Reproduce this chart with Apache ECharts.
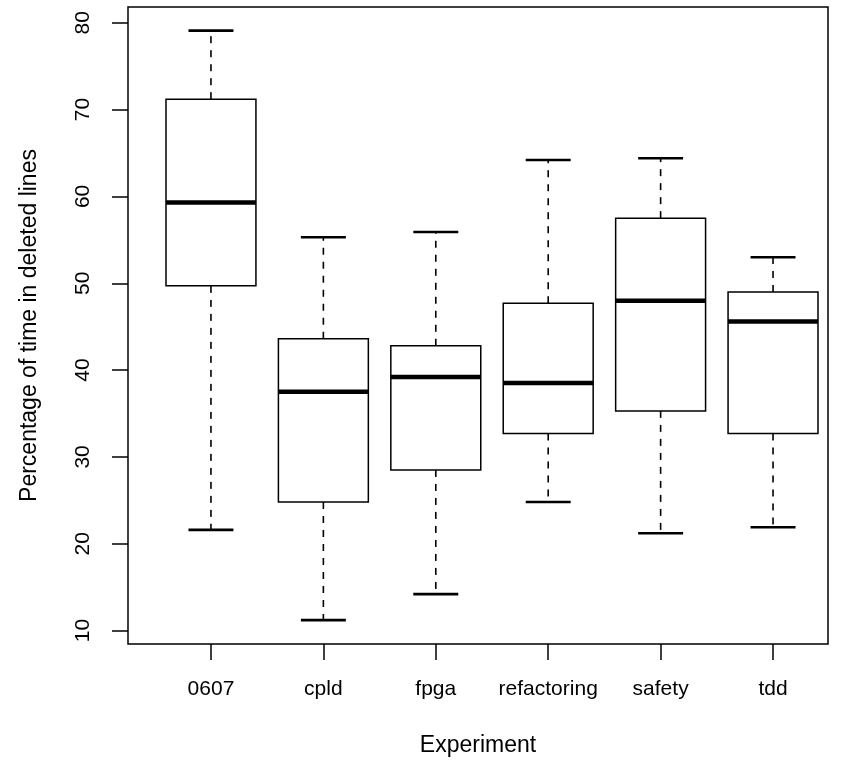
<!DOCTYPE html>
<html>
<head>
<meta charset="utf-8">
<script src="https://cdn.jsdelivr.net/npm/echarts@6/dist/echarts.min.js"></script>
<style>html,body{margin:0;padding:0;background:#fff;}#c{width:848px;height:767px;}</style>
</head>
<body>
<div id="c"></div>
<script>
const categories = ['0607', 'cpld', 'fpga', 'refactoring', 'safety', 'tdd'];
const whiskerLow  = [21.6, 11.2, 14.2, 24.8, 21.2, 21.9];
const q1          = [49.7, 24.8, 28.5, 32.7, 35.3, 32.7];
const median      = [59.3, 37.5, 39.2, 38.5, 48.0, 45.6];
const q3          = [71.2, 43.6, 42.8, 47.7, 57.5, 49.0];
const whiskerHigh = [79.1, 55.3, 55.9, 64.2, 64.4, 53.0];
const yTicks = [10, 20, 30, 40, 50, 60, 70, 80];

const data = categories.map((c, i) => [i + 1, whiskerLow[i], q1[i], median[i], q3[i], whiskerHigh[i]]);
const xTicks = categories.map((c, i) => i + 1);
const font = 'Liberation Sans, Arial, Helvetica, sans-serif';

const chart = echarts.init(document.getElementById('c'), null, {renderer: 'canvas'});
chart.setOption({
  animation: false,
  backgroundColor: '#fff',
  grid: {left: 128, right: 20, top: 7, bottom: 123, show: true, borderColor: '#000', borderWidth: 1.5, backgroundColor: 'transparent'},
  xAxis: {
    type: 'value', min: 0.262, max: 6.489,
    name: 'Experiment', nameLocation: 'middle', nameGap: 90,
    nameTextStyle: {fontFamily: font, fontSize: 23, color: '#000'},
    splitLine: {show: false},
    axisLine: {show: false},
    axisTick: {show: true, length: 16, customValues: xTicks, lineStyle: {color: '#000', width: 1.5}},
    axisLabel: {customValues: xTicks, margin: 35, fontFamily: font, fontSize: 21, color: '#000',
      formatter: v => categories[Math.round(v) - 1] || ''}
  },
  yAxis: {
    type: 'value', min: 8.45, max: 81.82,
    name: 'Percentage of time in deleted lines', nameLocation: 'middle', nameGap: 87,
    nameTextStyle: {fontFamily: font, fontSize: 23, color: '#000'},
    splitLine: {show: false},
    axisLine: {show: false},
    axisTick: {show: true, length: 16, customValues: yTicks, lineStyle: {color: '#000', width: 1.5}},
    axisLabel: {customValues: yTicks, rotate: 90, margin: 34, fontFamily: font, fontSize: 21, color: '#000'}
  },
  series: [{
    type: 'custom',
    data: data,
    encode: {x: 0, y: [1, 2, 3, 4, 5]},
    renderItem: function (params, api) {
      const x = api.value(0);
      const pLow = api.coord([x, api.value(1)]);
      const pQ1 = api.coord([x, api.value(2)]);
      const pMed = api.coord([x, api.value(3)]);
      const pQ3 = api.coord([x, api.value(4)]);
      const pHigh = api.coord([x, api.value(5)]);
      const hb = api.size([0.8, 0])[0] / 2;
      const hc = api.size([0.4, 0])[0] / 2;
      const cx = pMed[0];
      const dash = {stroke: '#000', lineWidth: 1.6, lineDash: [7, 7]};
      const solid = w => ({stroke: '#000', lineWidth: w});
      return {
        type: 'group',
        children: [
          {type: 'line', shape: {x1: cx, y1: pQ3[1], x2: cx, y2: pHigh[1]}, style: dash},
          {type: 'line', shape: {x1: cx, y1: pQ1[1], x2: cx, y2: pLow[1]}, style: dash},
          {type: 'line', shape: {x1: cx - hc, y1: pHigh[1], x2: cx + hc, y2: pHigh[1]}, style: solid(2.6)},
          {type: 'line', shape: {x1: cx - hc, y1: pLow[1], x2: cx + hc, y2: pLow[1]}, style: solid(2.6)},
          {type: 'rect', shape: {x: cx - hb, y: pQ3[1], width: hb * 2, height: pQ1[1] - pQ3[1]}, style: {fill: '#fff', stroke: '#000', lineWidth: 1.5}},
          {type: 'line', shape: {x1: cx - hb, y1: pMed[1], x2: cx + hb, y2: pMed[1]}, style: solid(4.5)}
        ]
      };
    }
  }]
});
</script>
</body>
</html>
